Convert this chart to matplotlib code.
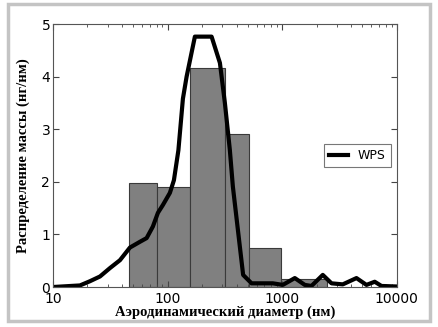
#Imports
import matplotlib
matplotlib.use('Agg')
import matplotlib.pyplot as plt
from matplotlib.patches import Rectangle

#Size bins (nm) and mass per bin
bin_edges = [45.7, 80, 157, 314, 514, 985, 2480]
bin_mass = [1.97, 1.91, 4.16, 2.90, 0.75, 0.15]

#WPS distribution
wps_diam = [10, 17.2, 21.0, 25.7, 31.4, 38.4, 46.9, 57.4, 65.6, 74.4, 82.3, 91.0,
            104.7, 113.5, 124.2, 136, 146.5, 173, 242, 286, 316, 349, 371, 456,
            540, 828, 1012, 1288, 1574, 1800, 2259, 2692, 3375, 4444, 5433,
            6413, 7342, 9900]
wps_mass = [0.0, 0.03, 0.11, 0.20, 0.36, 0.51, 0.75, 0.86, 0.93, 1.15, 1.41, 1.56,
            1.79, 2.03, 2.60, 3.58, 4.0, 4.76, 4.76, 4.26, 3.50, 2.61, 1.91, 0.23,
            0.07, 0.07, 0.04, 0.17, 0.04, 0.02, 0.23, 0.07, 0.05, 0.17, 0.04,
            0.10, 0.02, 0.01]

lefts = bin_edges[:-1]
widths = [b - a for a, b in zip(bin_edges[:-1], bin_edges[1:])]

fig = plt.figure(figsize=(4.38, 3.27), dpi=100)
ax = fig.add_axes([0.121, 0.1223, 0.785, 0.8043])

ax.bar(lefts, bin_mass, width=widths, align='edge', color='#808080',
       edgecolor='#3a3a3a', linewidth=0.8, zorder=1)
ax.plot(wps_diam, wps_mass, color='black', linewidth=3.0, label='WPS', zorder=2)

ax.set_xscale('log')
ax.set_xlim(10, 10000)
ax.set_ylim(0, 5)
ax.set_yticks([0, 1, 2, 3, 4, 5])
ax.set_xticks([10, 100, 1000, 10000])
ax.set_xticklabels(['10', '100', '1000', '10000'])
ax.tick_params(which='both', direction='in', top=True, right=True,
               labelsize=10, color='#444444')
ax.tick_params(which='major', length=4)
ax.tick_params(which='minor', length=2)
ax.tick_params(axis='y', pad=2)
for s in ax.spines.values():
    s.set_color('#555555')

ax.set_xlabel('Аэродинамический диаметр (нм)', fontfamily='Liberation Serif',
              fontweight='bold', fontsize=10.5, labelpad=0)
ax.set_ylabel('Распределение массы (нг/нм)', fontfamily='Liberation Serif',
              fontweight='bold', fontsize=10.5, labelpad=8)

leg = ax.legend(loc='center right', fontsize=9, fancybox=False,
                handlelength=1.5, borderaxespad=0.5)
leg.get_frame().set_edgecolor('#555555')
leg.get_frame().set_linewidth(0.8)

#Gray frame around the whole figure
fig.patches.append(Rectangle((8 / 438, 6 / 327), 422 / 438, 317 / 327,
                             transform=fig.transFigure, fill=False,
                             edgecolor='#c4c4c4', linewidth=2.5))

fig.savefig('out.png', dpi=100)
